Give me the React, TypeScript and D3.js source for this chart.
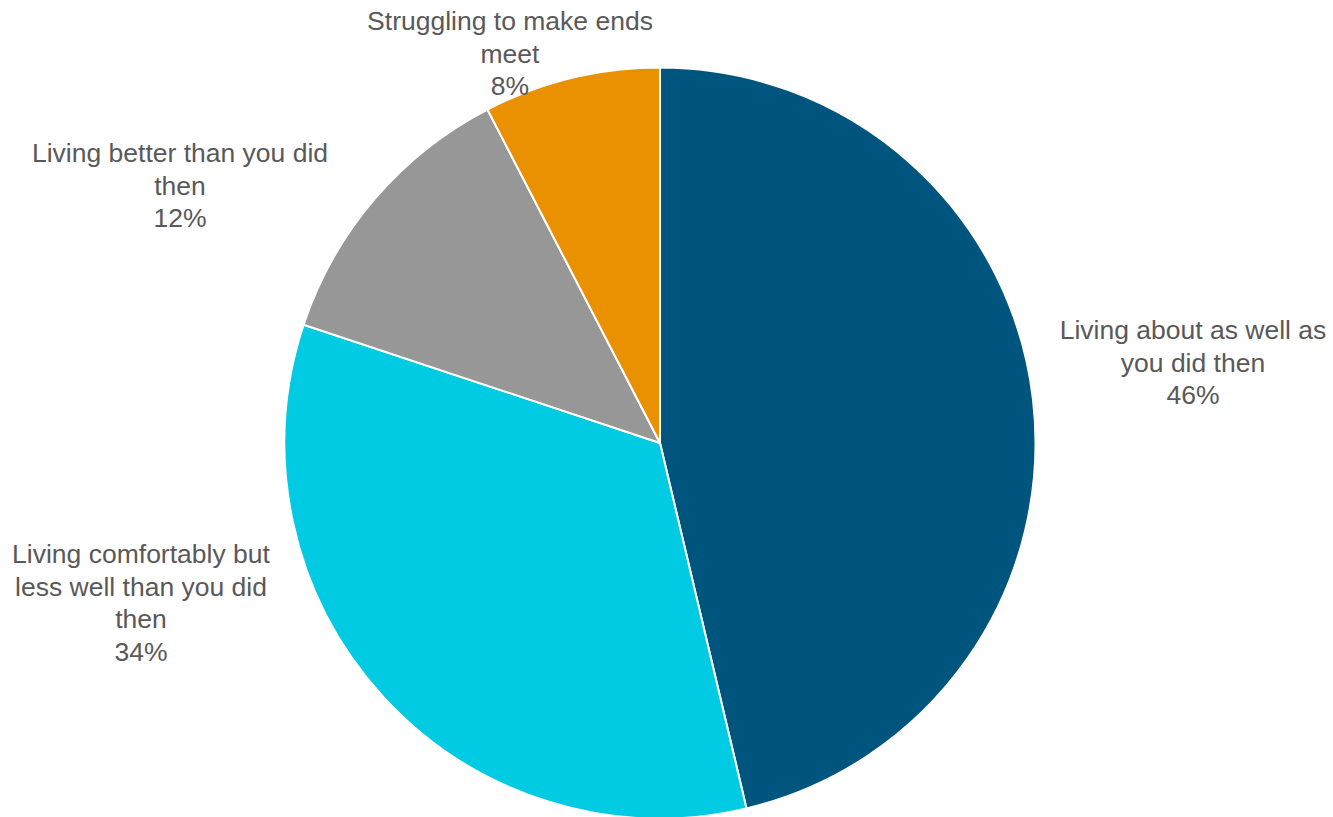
import React from "react";
import * as d3 from "d3";

const categories = [
  "Living about as well as you did then",
  "Living comfortably but less well than you did then",
  "Living better than you did then",
  "Struggling to make ends meet",
];
const values = [46.3, 33.8, 12.3, 7.6];
const colors = ["#00557E", "#00CBE2", "#979797", "#E99100"];

// layout only: how each label wraps and where its first baseline sits
const labelLines = [
  ["Living about as well as", "you did then"],
  ["Living comfortably but", "less well than you did", "then"],
  ["Living better than you did", "then"],
  ["Struggling to make ends", "meet"],
];
const labelAnchors = [
  { x: 1193, y: 339 },
  { x: 141, y: 563 },
  { x: 180, y: 162 },
  { x: 510, y: 30 },
];

const W = 1333;
const H = 817;
const CX = 660;
const CY = 443;
const R = 375.5;
const LINE = 32.5;

export default function App() {
  const pie = d3
    .pie<number>()
    .sort(null)
    .value((d) => d);
  const arcs = pie(values);
  const arc = d3.arc<d3.PieArcDatum<number>>().innerRadius(0).outerRadius(R);
  const total = d3.sum(values);

  return (
    <svg
      width={W}
      height={H}
      style={{ position: "absolute", left: 0, top: 0, background: "#fff" }}
    >
      <g transform={`translate(${CX},${CY})`}>
        {arcs.map((a, i) => (
          <path
            key={i}
            d={arc(a) || ""}
            fill={colors[i]}
            stroke="#ffffff"
            strokeWidth={2}
            strokeLinejoin="round"
          />
        ))}
      </g>
      {arcs.map((a, i) => {
        const lines = [
          ...labelLines[i],
          `${Math.round((values[i] / total) * 100)}%`,
        ];
        return (
          <text
            key={i}
            x={labelAnchors[i].x}
            y={labelAnchors[i].y}
            textAnchor="middle"
            fill="#595959"
            fontFamily="'Liberation Sans', Arial, sans-serif"
            fontSize={26.5}
          >
            {lines.map((l, j) => (
              <tspan key={j} x={labelAnchors[i].x} dy={j === 0 ? 0 : LINE}>
                {l}
              </tspan>
            ))}
          </text>
        );
      })}
    </svg>
  );
}
